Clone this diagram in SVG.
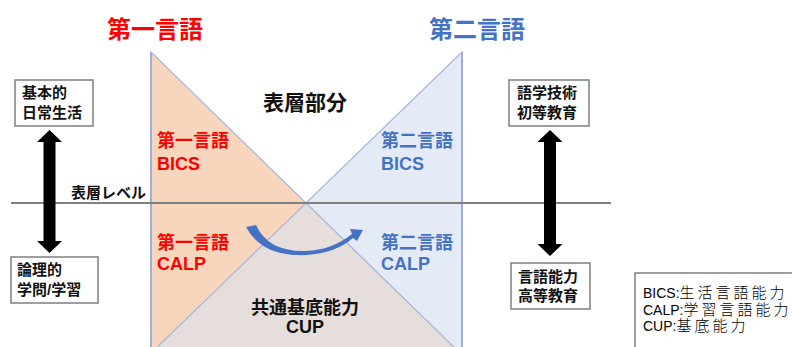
<svg xmlns="http://www.w3.org/2000/svg" width="792" height="347" viewBox="0 0 792 347">
<style>
text{font-family:'Liberation Sans','Noto Sans CJK JP',sans-serif;font-weight:bold}
.red{fill:#FF0000}
.blue{fill:#4472C4}
.blk{fill:#111}
.t18{font-size:18px}
.box{fill:#fff;stroke:#7F7F7F;stroke-width:1.5}
.bt{font-size:15px;fill:#111}
.leg{font-size:14px;font-weight:normal;fill:#000}
.cjk{font-family:'Noto Sans CJK JP',sans-serif;font-size:15px;font-weight:300;letter-spacing:3px}
.arr{fill:#000}
</style>
<rect width="792" height="347" fill="#fff"/>
<g id="triangles">
<polygon points="151,52 151,350 456.9,350" fill="#F8D6BE"/>
<polygon points="462,52 462,350 154.2,350" fill="#E4EBF7"/>
<polygon points="306,203 154.2,350 456.9,350" fill="#E5DEDD"/>
<polygon points="151,52 151,350 456.9,350" fill="none" stroke="#A8B7DA" stroke-width="1.3"/>
<polygon points="462,52 462,350 154.2,350" fill="none" stroke="#A8B7DA" stroke-width="1.3"/>
<line x1="151" y1="52" x2="151" y2="347" stroke="#9FB0D8" stroke-width="2"/>
<line x1="462" y1="52" x2="462" y2="347" stroke="#9FB0D8" stroke-width="2"/>
</g>
<g id="connectors">
<line x1="11" y1="203" x2="611" y2="203" stroke="#808080" stroke-width="2"/>
<polygon class="arr" points="49.5,130 62,142 55.5,142 55.5,241 62,241 49.5,253 37,241 43.5,241 43.5,142 37,142"/>
<polygon class="arr" points="550,130 562.5,142 556,142 556,244 562.5,244 550,256 537.5,244 544,244 544,142 537.5,142"/>
<path d="M246,227 Q262,257 306,255 Q336,253 353,238 L357,241 L363,230 L350,229 L352,234 Q332,250 306,251 Q268,252 256,225 Z" fill="#4472C4"/>
</g>
<g id="titles">
<text x="107" y="38" class="red" font-size="24">第一言語</text>
<text x="429" y="38" class="blue" font-size="24">第二言語</text>
<text x="263" y="110" class="blk" font-size="21">表層部分</text>
<text x="71" y="198" class="blk" font-size="15">表層レベル</text>
</g>
<g id="l1bics">
<text x="157" y="147" class="red t18">第一言語</text>
<text x="157" y="170" class="red t18">BICS</text>
</g>
<g id="l2bics">
<text x="381" y="147" class="blue t18">第二言語</text>
<text x="381" y="170" class="blue t18">BICS</text>
</g>
<g id="l1calp">
<text x="157" y="249" class="red t18">第一言語</text>
<text x="157" y="270" class="red t18">CALP</text>
</g>
<g id="l2calp">
<text x="381" y="249" class="blue t18">第二言語</text>
<text x="381" y="270" class="blue t18">CALP</text>
</g>
<g id="cup">
<text x="305" y="314" class="blk t18" text-anchor="middle">共通基底能力</text>
<text x="305" y="333" class="blk t18" text-anchor="middle">CUP</text>
</g>
<g id="box-basic">
<rect class="box" x="15" y="80" width="78" height="46"/>
<text x="22" y="98" class="bt">基本的</text>
<text x="22" y="118" class="bt">日常生活</text>
</g>
<g id="box-logic">
<rect class="box" x="11" y="257" width="87" height="46"/>
<text x="17" y="275" class="bt">論理的</text>
<text x="17" y="295" class="bt">学問/学習</text>
</g>
<g id="box-skill">
<rect class="box" x="509" y="80" width="80" height="46"/>
<text x="517" y="98" class="bt">語学技術</text>
<text x="517" y="118" class="bt">初等教育</text>
</g>
<g id="box-ability">
<rect class="box" x="511" y="263" width="79" height="46"/>
<text x="518" y="282" class="bt">言語能力</text>
<text x="518" y="301" class="bt">高等教育</text>
</g>
<g id="legend">
<rect class="box" x="635" y="273" width="170" height="90"/>
<text x="643" y="298" class="leg">BICS:<tspan class="cjk">生活言語能力</tspan></text>
<text x="643" y="315" class="leg">CALP:<tspan class="cjk">学習言語能力</tspan></text>
<text x="643" y="331" class="leg">CUP:<tspan class="cjk">基底能力</tspan></text>
</g>
</svg>
